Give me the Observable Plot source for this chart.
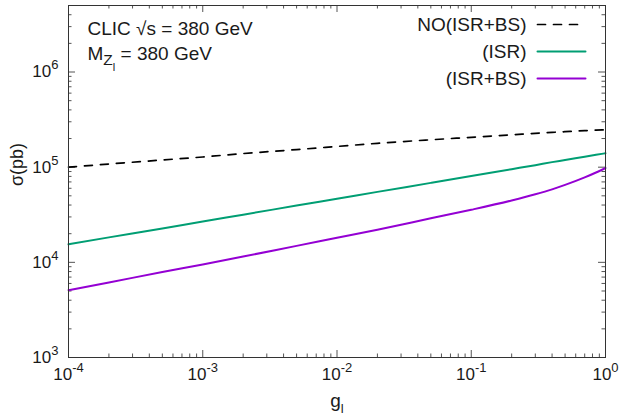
<!DOCTYPE html>
<html>
<head>
<meta charset="utf-8">
<script src="https://cdn.jsdelivr.net/npm/d3@7"></script>
<script src="https://cdn.jsdelivr.net/npm/@observablehq/plot@0.6"></script>
<style>
  html, body { margin: 0; padding: 0; background: #fff; }
  #chart svg { display: block; }
</style>
</head>
<body>
<div id="chart"></div>
<script>
// Coupling values g_l at which the cross sections are sampled
const gValues = [1e-4, 2e-4, 5e-4, 1e-3, 2e-3, 5e-3, 1e-2, 2e-2, 5e-2, 1e-1, 2e-1, 3e-1, 4e-1, 5e-1, 7e-1, 8.5e-1, 1];

// Cross sections sigma (pb) for each beam treatment
const sigmaNoISRBS = [1.00e5, 1.08e5, 1.19e5, 1.28e5, 1.39e5, 1.53e5, 1.65e5, 1.78e5, 1.94e5, 2.06e5, 2.19e5, 2.27e5, 2.32e5, 2.36e5, 2.42e5, 2.45e5, 2.47e5];
const sigmaISR     = [1.55e4, 1.83e4, 2.27e4, 2.69e4, 3.17e4, 3.95e4, 4.66e4, 5.50e4, 6.84e4, 8.07e4, 9.53e4, 1.05e5, 1.13e5, 1.19e5, 1.29e5, 1.35e5, 1.40e5];
const sigmaISRBS   = [5.10e3, 6.15e3, 7.90e3, 9.50e3, 1.15e4, 1.49e4, 1.81e4, 2.20e4, 2.90e4, 3.57e4, 4.47e4, 5.19e4, 5.85e4, 6.51e4, 7.80e4, 8.79e4, 9.80e4];

// Series names and colours
const seriesNames  = ["NO(ISR+BS)", "(ISR)", "(ISR+BS)"];
const seriesColors = ["#000000", "#009e73", "#9400d3"];
const seriesDash   = ["8,8", null, null];

// Axis ticks
const xMajor = [1e-4, 1e-3, 1e-2, 1e-1, 1];
const xTickLabels = ["10^-4", "10^-3", "10^-2", "10^-1", "10^0"];
const yMajor = [1e3, 1e4, 1e5, 1e6];
const yTickLabels = ["10^3", "10^4", "10^5", "10^6"];
const yDomain = [1e3, 5e6];

// Minor log ticks (2..9 within each decade)
const xMinor = [];
for (const d of xMajor.slice(0, -1)) for (let k = 2; k <= 9; k++) xMinor.push(k * d);
const yMinor = [];
for (const d of yMajor) for (let k = 2; k <= 9; k++) if (k * d < yDomain[1]) yMinor.push(k * d);

// Long-format table built from the series arrays
const seriesValues = [sigmaNoISRBS, sigmaISR, sigmaISRBS];
const rows = seriesNames.flatMap((name, s) =>
  gValues.map((g, i) => ({ g, sigma: seriesValues[s][i], series: name }))
);

const W = 621, H = 419;
const mL = 68, mR = 16, mT = 5, mB = 62;
const FW = W - mL - mR, FH = H - mT - mB;
const majorLen = 7, minorLen = 3.5;
const tickColor = "#555";
const ink = "#1a1a1a";
const font = "'Liberation Sans', Arial, Helvetica, sans-serif";

const fmtX = d => xTickLabels[xMajor.indexOf(d)];
const fmtY = d => yTickLabels[yMajor.indexOf(d)];

// Straight stroke used as a legend sample
const segment = { draw(context, l) { context.moveTo(0, 0); context.lineTo(0, -l); } };

const legendRowDy = [19, 46, 73];

const chart = Plot.plot({
  width: W,
  height: H,
  marginLeft: mL,
  marginRight: mR,
  marginTop: mT,
  marginBottom: mB,
  style: { fontFamily: font, fontSize: "17px", color: ink, background: "#fff" },
  x: { type: "log", domain: [1e-4, 1] },
  y: { type: "log", domain: yDomain },
  marks: [
    // tick labels only; tick lines are drawn inside the frame below
    Plot.axisX(xMajor, { tickSize: 0, tickPadding: 10, tickFormat: fmtX, label: null, fontSize: 17 }),
    Plot.axisY(yMajor, { tickSize: 0, tickPadding: 10, tickFormat: fmtY, label: null, fontSize: 17 }),

    // inward ticks on all four sides
    Plot.tickY(yMajor, { y: d => d, insetRight: FW - majorLen, stroke: tickColor }),
    Plot.tickY(yMajor, { y: d => d, insetLeft: FW - majorLen, stroke: tickColor }),
    Plot.tickY(yMinor, { y: d => d, insetRight: FW - minorLen, stroke: tickColor }),
    Plot.tickY(yMinor, { y: d => d, insetLeft: FW - minorLen, stroke: tickColor }),
    Plot.tickX(xMajor, { x: d => d, insetTop: FH - majorLen, stroke: tickColor }),
    Plot.tickX(xMajor, { x: d => d, insetBottom: FH - majorLen, stroke: tickColor }),
    Plot.tickX(xMinor, { x: d => d, insetTop: FH - minorLen, stroke: tickColor }),
    Plot.tickX(xMinor, { x: d => d, insetBottom: FH - minorLen, stroke: tickColor }),

    // curves
    ...seriesNames.map((name, s) =>
      Plot.line(rows.filter(r => r.series === name), {
        x: "g", y: "sigma",
        stroke: seriesColors[s],
        strokeWidth: s === 0 ? 1.7 : 2,
        strokeDasharray: seriesDash[s],
        curve: "monotone-x"
      })
    ),

    Plot.frame({ stroke: "#333", strokeWidth: 1 }),

    // legend
    ...seriesNames.map((name, s) =>
      Plot.text([name], {
        frameAnchor: "top-right", dx: -79, dy: legendRowDy[s],
        textAnchor: "end", lineAnchor: "middle", fontSize: 19, fill: ink
      })
    ),
    ...seriesNames.map((name, s) =>
      Plot.vector([name], {
        frameAnchor: "top-right", dx: -68, dy: legendRowDy[s],
        length: 48, rotate: 90, anchor: "start", shape: segment,
        stroke: seriesColors[s], strokeWidth: s === 0 ? 1.7 : 2,
        strokeDasharray: seriesDash[s]
      })
    ),

    // annotations
    Plot.text(["CLIC \u221As = 380 GeV"], {
      frameAnchor: "top-left", dx: 19, dy: 23, textAnchor: "start", lineAnchor: "middle", fontSize: 19, fill: ink
    }),
    Plot.text(["MZl = 380 GeV"], {
      frameAnchor: "top-left", dx: 19, dy: 48, textAnchor: "start", lineAnchor: "middle", fontSize: 19, fill: ink
    }),

    // axis titles
    Plot.text(["\u03c3(pb)"], {
      frameAnchor: "left", dx: -51, dy: -17, rotate: -90, textAnchor: "middle", lineAnchor: "middle", fontSize: 18, fill: ink
    }),
    Plot.text(["gl"], {
      frameAnchor: "bottom", dy: 43, textAnchor: "middle", lineAnchor: "middle", fontSize: 19, fill: ink
    })
  ]
});

document.getElementById("chart").appendChild(chart);

// Rebuild a text element from parts with vertical offsets (super/subscripts)
function rich(el, parts) {
  const sel = d3.select(el);
  sel.text(null);
  let cur = 0;
  for (const p of parts) {
    const off = p.off || 0;
    const ts = sel.append("tspan").text(p.t);
    if (off !== cur) ts.attr("dy", off - cur);
    if (p.size) ts.attr("font-size", p.size);
    cur = off;
  }
}

const svg = d3.select(chart);
svg.selectAll("text").each(function () {
  const s = this.textContent;
  const m = /^10\^(.+)$/.exec(s);
  if (m) {
    rich(this, [{ t: "10" }, { t: m[1], off: -8, size: 13 }]);
  } else if (s === "MZl = 380 GeV") {
    rich(this, [{ t: "M" }, { t: "Z", off: 5, size: 15.5 }, { t: "l", off: 11, size: 11 }, { t: " = 380 GeV", off: 0 }]);
  } else if (s === "gl") {
    rich(this, [{ t: "g" }, { t: "l", off: 6, size: 13 }]);
  }
});
</script>
</body>
</html>
